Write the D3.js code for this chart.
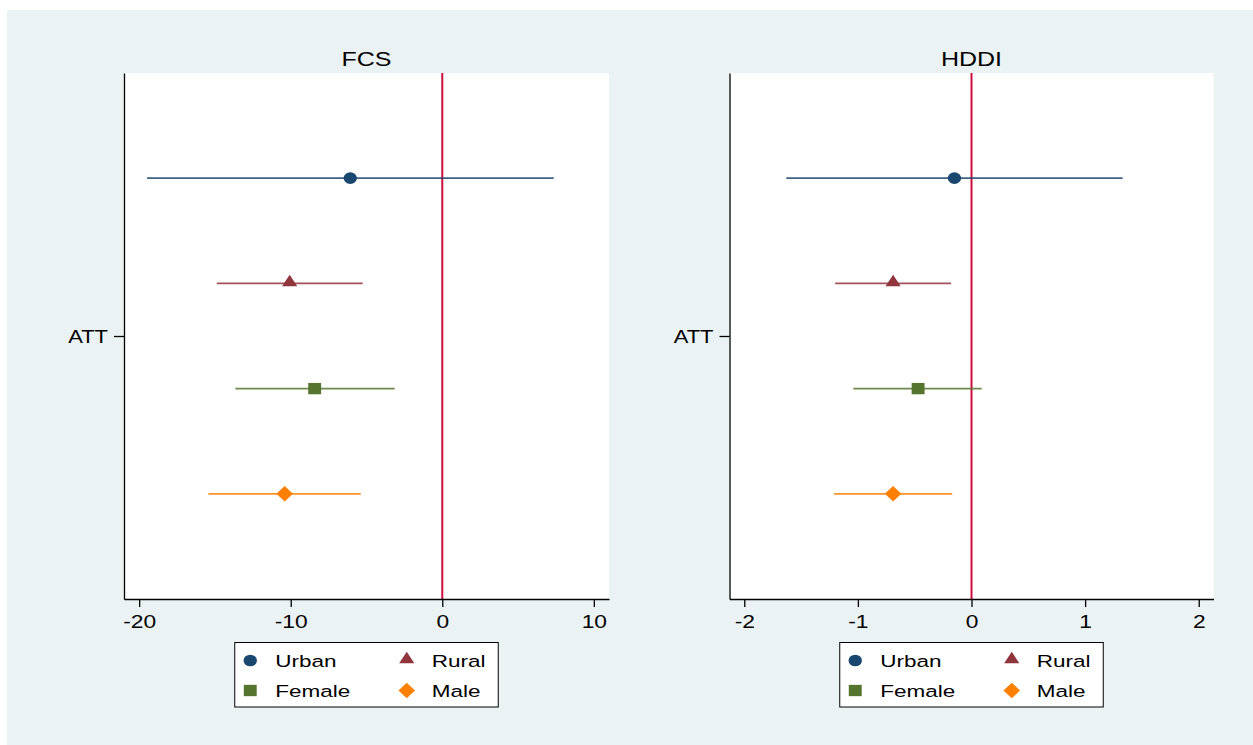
<!DOCTYPE html>
<html>
<head>
<meta charset="utf-8">
<script src="https://cdn.jsdelivr.net/npm/d3@7"></script>
<style>
  html, body { margin: 0; padding: 0; background: #ffffff; }
  svg { display: block; }
  text { font-family: "Liberation Sans", Arial, Helvetica, sans-serif; fill: #000; }
</style>
</head>
<body>
<svg id="chart" width="1253" height="745"></svg>
<script>
// ---------------- data ----------------
const groups = ["Urban", "Rural", "Female", "Male"];
const groupOffsets = [-0.3, -0.1, 0.1, 0.3];
const rowLabels = ["ATT"];

const panelTitles = ["FCS", "HDDI"];

const fcsEst  = [-6.07, -10.07, -8.42, -10.40];
const fcsLow  = [-19.48, -14.88, -13.65, -15.43];
const fcsHigh = [7.35, -5.25, -3.14, -5.38];
const fcsTicks = [-20, -10, 0, 10];
const fcsDomain = [-21, 11];

const hddiEst  = [-0.15, -0.69, -0.47, -0.69];
const hddiLow  = [-1.63, -1.20, -1.04, -1.21];
const hddiHigh = [1.33, -0.18, 0.09, -0.17];
const hddiTicks = [-2, -1, 0, 1, 2];
const hddiDomain = [-2.13, 2.13];

const refValue = 0;

// ---------------- styles ----------------
const markerColors = ["#1a476f", "#90353b", "#55752f", "#ff7f00"];
const symbolNames = ["circle", "triangle", "square", "diamond"];
const bgColor = "#eaf2f3";
const refColor = "#cc0f3a";
const stretch = 1.2;

const svg = d3.select("#chart");
svg.append("rect").attr("x", 7).attr("y", 10).attr("width", 1246).attr("height", 735).attr("fill", bgColor);

const diamondType = {
  draw(ctx, size) {
    const r = Math.sqrt(size) / 2 * Math.SQRT2;
    ctx.moveTo(0, -r); ctx.lineTo(r, 0); ctx.lineTo(0, r); ctx.lineTo(-r, 0); ctx.closePath();
  }
};
const symTypes = {
  circle: { type: d3.symbolCircle, size: 108, sx: 1.14 },
  triangle: { type: d3.symbolTriangle, size: 78, sx: 1.13 },
  square: { type: d3.symbolSquare, size: 128, sx: 1.14 },
  diamond: { type: diamondType, size: 120, sx: 1.07 }
};
function drawSymbol(g, name, color, x, y) {
  const s = symTypes[name];
  const path = d3.symbol().type(s.type).size(s.size)();
  const dy = name === "triangle" ? -1 : 0;
  g.append("path")
    .attr("d", path)
    .attr("transform", `translate(${x},${y + dy}) scale(${s.sx},1)`)
    .attr("fill", color);
}

const panels = [
  { title: panelTitles[0], est: fcsEst, low: fcsLow, high: fcsHigh, ticks: fcsTicks, domain: fcsDomain, x0: 124, x1: 609 },
  { title: panelTitles[1], est: hddiEst, low: hddiLow, high: hddiHigh, ticks: hddiTicks, domain: hddiDomain, x0: 729.5, x1: 1213.5 }
];

const yTop = 73, yBot = 599;

panels.forEach(p => {
  const g = svg.append("g");
  const x = d3.scaleLinear().domain(p.domain).range([p.x0, p.x1]);
  const y = d3.scaleLinear().domain([0.5, 1.5]).range([yTop, yBot]);

  g.append("rect").attr("x", p.x0).attr("y", yTop).attr("width", p.x1 - p.x0).attr("height", yBot - yTop).attr("fill", "#ffffff");

  g.append("text")
    .attr("transform", `translate(${(p.x0 + p.x1) / 2},65.5) scale(1.22,1)`)
    .attr("text-anchor", "middle")
    .attr("font-size", 20.5)
    .text(p.title);

  g.append("line")
    .attr("x1", x(refValue)).attr("x2", x(refValue))
    .attr("y1", yTop).attr("y2", yBot)
    .attr("stroke", refColor).attr("stroke-width", 2);

  groups.forEach((grp, i) => {
    const yy = y(1 + groupOffsets[i]);
    g.append("line")
      .attr("x1", x(p.low[i])).attr("x2", x(p.high[i]))
      .attr("y1", yy).attr("y2", yy)
      .attr("stroke", markerColors[i]).attr("stroke-opacity", 0.85)
      .attr("stroke-width", 1.8);
    drawSymbol(g, symbolNames[i], markerColors[i], x(p.est[i]), yy);
  });

  const xa = g.append("g").attr("transform", `translate(0,${yBot})`)
    .call(d3.axisBottom(x).tickValues(p.ticks).tickSize(8).tickSizeOuter(0).tickFormat(d3.format("d")));
  xa.select(".domain").attr("stroke", "#000").attr("stroke-width", 1.3);
  xa.selectAll(".tick line").attr("stroke", "#000").attr("stroke-width", 1.3);
  xa.selectAll(".tick text")
    .attr("y", 28.7).attr("dy", 0)
    .attr("font-size", 19)
    .attr("font-family", "Liberation Sans, Arial, sans-serif")
    .attr("fill", "#000")
    .attr("transform", `scale(${stretch},1)`)
    .text(d => d < 0 ? "-" + Math.abs(d) : String(d));

  const ya = g.append("g").attr("transform", `translate(${p.x0},0)`)
    .call(d3.axisLeft(y).tickValues([1]).tickSize(10).tickSizeOuter(0).tickFormat(() => rowLabels[0]));
  ya.select(".domain").attr("stroke", "#000").attr("stroke-width", 1.3);
  ya.selectAll(".tick line").attr("stroke", "#000").attr("stroke-width", 1.3);
  ya.selectAll(".tick text")
    .attr("x", 0).attr("dy", 0).attr("y", 0)
    .attr("font-size", 18)
    .attr("font-family", "Liberation Sans, Arial, sans-serif")
    .attr("fill", "#000")
    .attr("text-anchor", "end")
    .attr("transform", `translate(-16,6.5) scale(1.22,1)`);

  const lw = 263.5, lh = 64.5;
  const lx = (p.x0 + p.x1) / 2 - lw / 2, ly = 642.5;
  const lg = g.append("g");
  lg.append("rect").attr("x", lx).attr("y", ly).attr("width", lw).attr("height", lh)
    .attr("fill", "#ffffff").attr("stroke", "#000").attr("stroke-width", 1);
  groups.forEach((grp, i) => {
    const col = i % 2, row = Math.floor(i / 2);
    const mx = lx + 15.5 + col * 156.5;
    const my = ly + 18 + row * 30;
    drawSymbol(lg, symbolNames[i], markerColors[i], mx, my);
    lg.append("text")
      .attr("transform", `translate(${mx + 25},${my + 6.5}) scale(1.3,1)`)
      .attr("font-size", 17.3)
      .text(grp);
  });
});
</script>
</body>
</html>
